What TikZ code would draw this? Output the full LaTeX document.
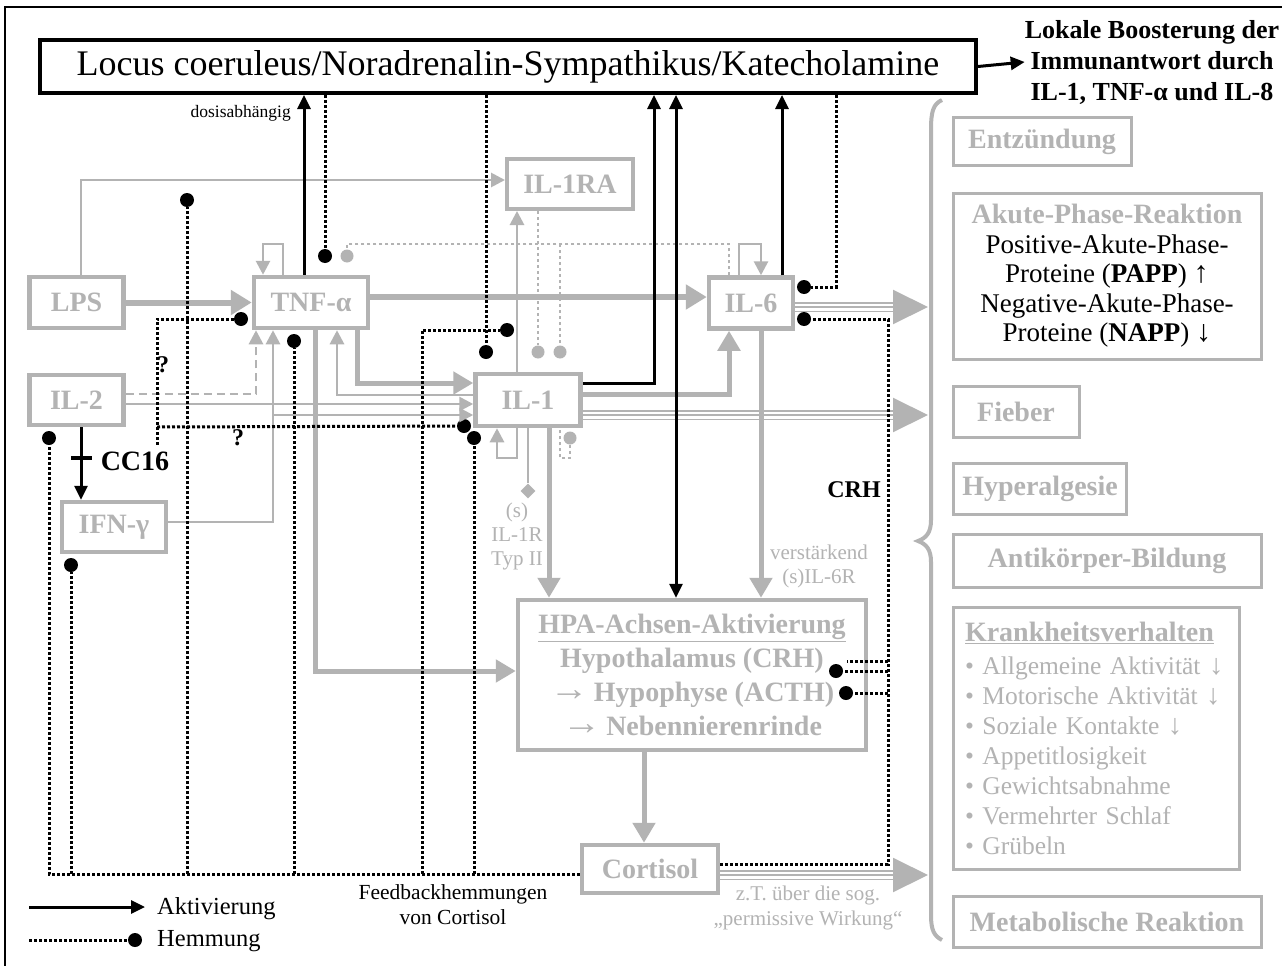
\documentclass[tikz,border=0pt]{standalone}
\usepackage{fontspec}
\setmainfont{Liberation Serif}
\usetikzlibrary{arrows.meta,shapes.geometric}
\definecolor{lg}{RGB}{179,179,179}
\newcommand\fsz[2]{\fontsize{#1}{#2}\selectfont}
\newcommand\bigarr{\raisebox{0.03em}{\scalebox{1.4}[1.25]{\mdseries →}}\kern0.18em}
\newcommand\uparr{\scalebox{1.12}[1.12]{↑}}
\newcommand\dnarr{\scalebox{1.12}[1.12]{↓}}
\begin{document}
\begin{tikzpicture}[x=1pt,y=-1pt,
  gbox/.style={draw=lg, line width=4.5pt, text=lg, font=\bfseries\fsz{28}{30}, inner sep=0pt},
  rbox/.style={draw=lg, line width=3pt, inner sep=0pt},
  txt/.style={inner sep=0pt},
  gtxt/.style={inner sep=0pt, text=lg},
  gar/.style={draw=lg, line width=6pt, -{Triangle[length=21pt,width=24pt]}},
  gar2/.style={draw=lg, line width=5pt, -{Triangle[length=20pt,width=22pt]}},
  tar/.style={draw=lg, line width=2.8pt, -{Triangle[length=14pt,width=14pt]}},
  bar/.style={draw=black, line width=3pt, -{Triangle[length=14pt,width=13pt]}},
  inh/.style={draw=black, line width=3pt, dash pattern=on 3pt off 2pt},
  ginh/.style={draw=lg, line width=2.8pt, dash pattern=on 3pt off 3pt},
  dot/.style={circle, fill=black, inner sep=0pt, minimum size=14pt},
  gdot/.style={circle, fill=lg, inner sep=0pt, minimum size=13pt},
  tri/.style={draw=lg, line width=10pt, postaction={draw=white, line width=7pt}, postaction={draw=lg, line width=1.5pt}},
  tip/.style={draw=lg, line width=2pt, -{Triangle[length=35pt,width=34pt]}}
]
\useasboundingbox (0,0) rectangle (1282,966);
\fill[white] (0,0) rectangle (1282,966);
% outer frame
\draw[line width=2.5pt] (5,966) -- (5,7) -- (1282,7);

% ---------- nodes ----------
\node[draw=black, line width=4pt, minimum width=936pt, minimum height=53pt, inner sep=0pt, font=\fsz{36}{38}] (locus) at (508,66.5) {Locus coeruleus/Noradrenalin-Sympathikus/Katecholamine};
\node[txt, align=center, font=\bfseries\fsz{26}{31}] (lokal) at (1152,62) {Lokale Boosterung der\\Immunantwort durch\\IL-1, TNF-α und IL-8};
\node[txt, anchor=east, font=\fsz{17.5}{20}] (dosis) at (291,113) {dosisabhängig};

\node[gbox, minimum width=94pt, minimum height=51pt] (lps) at (76.5,302.5) {LPS};
\node[gbox, minimum width=114pt, minimum height=51pt] (tnf) at (311,302.5) {TNF-α};
\node[gbox, line width=4pt, minimum width=126pt, minimum height=50pt] (il1ra) at (570,184) {IL-1RA};
\node[gbox, minimum width=84pt, minimum height=51pt] (il6) at (751,303) {IL-6};
\node[gbox, minimum width=94pt, minimum height=50pt] (il2) at (76.5,400) {IL-2};
\node[gbox, minimum width=104pt, minimum height=50pt] (ifn) at (114,527) {IFN-γ};
\node[gbox, minimum width=105pt, minimum height=52pt] (il1) at (528,400) {IL-1};
\node[gbox, minimum width=348pt, minimum height=150pt, align=center, font=\bfseries\fsz{28}{34}] (hpa) at (692,675) {\underline{HPA-Achsen-Aktivierung}\\Hypothalamus (CRH)\\\bigarr Hypophyse (ACTH)\\\bigarr Nebennierenrinde};
\node[gbox, minimum width=136pt, minimum height=48pt] (cort) at (650,869) {Cortisol};

% right column
\node[rbox, minimum width=178pt, minimum height=48pt, text=lg, font=\bfseries\fsz{28}{30}] (entz) at (1042,141.5) {Entzündung};
\node[rbox, minimum width=308pt, minimum height=166pt, align=center, font=\fsz{27}{29.5}] (akut) at (1107,276) {{\color{lg}\bfseries\fsz{28}{29.5}Akute-Phase-Reaktion}\\Positive-Akute-Phase-\\Proteine (\textbf{PAPP}) \uparr\\Negative-Akute-Phase-\\Proteine (\textbf{NAPP}) \dnarr};
\node[rbox, minimum width=126pt, minimum height=51pt, text=lg, font=\bfseries\fsz{28}{30}] (fieb) at (1016,411.5) {Fieber};
\node[rbox, minimum width=173pt, minimum height=51pt, text=lg, font=\bfseries\fsz{28}{30}] (hyper) at (1040,488.5) {Hyperalgesie};
\node[rbox, minimum width=308pt, minimum height=53pt, text=lg, font=\bfseries\fsz{28}{30}] (anti) at (1107,560.5) {Antikörper-Bildung};
\node[rbox, minimum width=286pt, minimum height=262pt, text=lg, align=left, text width=262pt, font=\fsz{25.5}{30}] (krank) at (1096,738) {{\bfseries\fsz{28}{30}\underline{Krankheitsverhalten}}\\[3pt]• Allgemeine Aktivität \dnarr\\• Motorische Aktivität \dnarr\\• Soziale Kontakte \dnarr\\• Appetitlosigkeit\\• Gewichtsabnahme\\• Vermehrter Schlaf\\• Grübeln};
\node[rbox, minimum width=308pt, minimum height=51pt, text=lg, font=\bfseries\fsz{28}{30}] (meta) at (1107,921.5) {Metabolische Reaktion};

% labels
\node[txt, font=\bfseries\fsz{28}{30}] (cc16) at (135,461) {CC16};
\node[txt, font=\bfseries\fsz{24}{26}] (crh) at (854,490) {CRH};
\node[txt, font=\bfseries\fsz{24}{26}] (q1) at (163,365) {?};
\node[txt, font=\bfseries\fsz{24}{26}] (q2) at (238,438) {?};
\node[gtxt, align=center, font=\fsz{21}{24}] (il1r) at (517,536) {(s)\\IL-1R\\Typ II};
\node[gtxt, align=center, font=\fsz{21}{24}] (verst) at (819,566) {verstärkend\\(s)IL-6R};
\node[txt, align=center, font=\fsz{21.5}{25}] (feed) at (453,905) {Feedbackhemmungen\\von Cortisol};
\node[gtxt, align=center, font=\fsz{21}{25}] (perm) at (808,908) {z.T. über die sog.\\„permissive Wirkung“};
\node[diamond, fill=lg, inner sep=0pt, minimum size=15pt] (dia) at (528,491) {};

% dots
\node[dot] (d1) at (325,256) {};
\node[dot] (d2) at (486,352) {};
\node[dot] (d6a) at (804,287) {};
\node[dot] (d6b) at (804,319) {};
\node[dot] (dil2) at (49,438) {};
\node[dot] (difn) at (71,565) {};
\node[dot] (dA) at (187,200) {};
\node[dot] (dtnf) at (294,341) {};
\node[dot] (dil1ra) at (507,330) {};
\node[dot] (dil1b) at (474,438) {};
\node[dot] (dil1a) at (464,426) {};
\node[dot] (dtnfl) at (241,319) {};
\node[dot] (dh1) at (836,671) {};
\node[dot] (dh2) at (846,693) {};
\node[gdot] (g1) at (347,256) {};
\node[gdot] (g2) at (538,352) {};
\node[gdot] (g3) at (560,352) {};
\node[gdot] (g4) at (570,438) {};

% ---------- triple arrows to the brace ----------
\coordinate (b6) at (928,307);
\coordinate (b1) at (928,415);
\coordinate (bc) at (928,875);
\draw[tri] (il6.east |- 0,307) -- (893,307);
\draw[tip] (890,307) -- (b6);
\draw[tri] (il1.east |- 0,415) -- (893,415);
\draw[tip] (890,415) -- (b1);
\draw[tri] (cort.east |- 0,875) -- (893,875);
\draw[tip] (890,875) -- (bc);

% brace
\draw[lg, line width=4pt] (942,100) .. controls (933,104) and (931,112) .. (931,130) -- (931,520) .. controls (931,533) and (926,538) .. (918,541) .. controls (926,544) and (931,549) .. (931,562) -- (931,915) .. controls (931,930) and (934,936) .. (942,940);

% ---------- gray thick activations ----------
\draw[gar] (lps.east) -- (tnf.west);
\draw[gar] (tnf.east |- 0,297) -- (il6.west |- 0,297);
\draw[gar2] (357,0 |- tnf.south) |- (il1.west |- 0,383);
\draw[gar2] (il1.east |- 0,394) -| (729,0 |- il6.south);
\draw[gar2] (315,0 |- tnf.south) |- (hpa.west |- 0,671);
\draw[gar2] (549,0 |- il1.south) -- (549,0 |- hpa.north);
\draw[gar2] (761,0 |- il6.south) -- (761,0 |- hpa.north);
\draw[gar2] (644,0 |- hpa.south) -- (644,0 |- cort.north);

% ---------- gray thin activations ----------
\draw[tar] (81,0 |- lps.north) |- (il1ra.west |- 0,180);
\draw[tar] (517,0 |- il1.north) -- (517,0 |- il1ra.south);
\draw[tar] (il1.west |- 0,395) -| (337,0 |- tnf.south);
\draw[tar] (il2.east |- 0,404) -- (il1.west |- 0,404);
\draw[tar] (ifn.east |- 0,522) -| (273,0 |- tnf.south);
\draw[tar] (273,415) -- (il1.west |- 0,415);
\draw[tar, dash pattern=on 8pt off 5pt] (il2.east |- 0,394) -| (256,0 |- tnf.south);
\draw[tar] (283,0 |- tnf.north) -- (283,244) -| (263,0 |- tnf.north);
\draw[tar] (739,0 |- il6.north) -- (739,244) -| (761,0 |- il6.north);
\draw[tar] (517,0 |- il1.south) -- (517,458) -| (497,0 |- il1.south);
\draw[lg, line width=2.8pt] (528,0 |- il1.south) -- (dia.north);

% ---------- gray inhibitions ----------
\draw[ginh] (729,0 |- il6.north) -- (729,244) -| (g1);
\draw[ginh] (560,244) -- (g3);
\draw[ginh] (538,0 |- il1ra.south) -- (g2);
\draw[ginh] (g4) -- (570,458) -| (560,0 |- il1.south);

% ---------- black activations ----------
\draw[bar] (304,0 |- tnf.north) -- (304,0 |- locus.south);
\draw[bar] (il1.east |- 0,383) -| (654,0 |- locus.south);
\draw[bar, {Triangle[length=14pt,width=13pt]}-{Triangle[length=14pt,width=13pt]}] (676,0 |- locus.south) -- (676,0 |- hpa.north);
\draw[bar] (782,0 |- il6.north) -- (782,0 |- locus.south);
\draw[bar] (locus.east) -- (lokal.west);
\draw[bar] (81,0 |- il2.south) -- (81,0 |- ifn.north);
\draw[black, line width=4pt] (71,458) -- (92,458);

% ---------- black inhibitions ----------
\draw[inh] (325,0 |- locus.south) -- (d1);
\draw[inh] (486,0 |- locus.south) -- (d2);
\draw[inh] (836,0 |- locus.south) |- (d6a);
\draw[inh] (cort.west |- 0,874) -- (49,874) -- (dil2);
\draw[inh] (71,874) -- (difn);
\draw[inh] (187,874) -- (dA);
\draw[inh] (294,874) -- (dtnf);
\draw[inh] (422,874) |- (dil1ra);
\draw[inh] (474,874) -- (dil1b);
\draw[inh] (cort.east |- 0,864) -| (888,319) -- (d6b);
\draw[inh] (888,671) -- (dh1);
\draw[inh] (888,693) -- (dh2);
\draw[inh] (888,661) -- (847,661);
\draw[inh] (dtnfl) -- (157,319) -- (157,447);
\draw[inh] (157,427) -- (dil1a);

% ---------- legend ----------
\coordinate (la1) at (29,907);
\coordinate (la2) at (145,907);
\draw[bar] (la1) -- (la2);
\node[txt, anchor=west, font=\fsz{24.5}{26}] (lakt) at (157,909) {Aktivierung};
\coordinate (lh1) at (29,940);
\node[dot] (lhd) at (135,940) {};
\draw[inh] (lh1) -- (lhd);
\node[txt, anchor=west, font=\fsz{24.5}{26}] (lhem) at (157,941) {Hemmung};
\end{tikzpicture}
\end{document}
